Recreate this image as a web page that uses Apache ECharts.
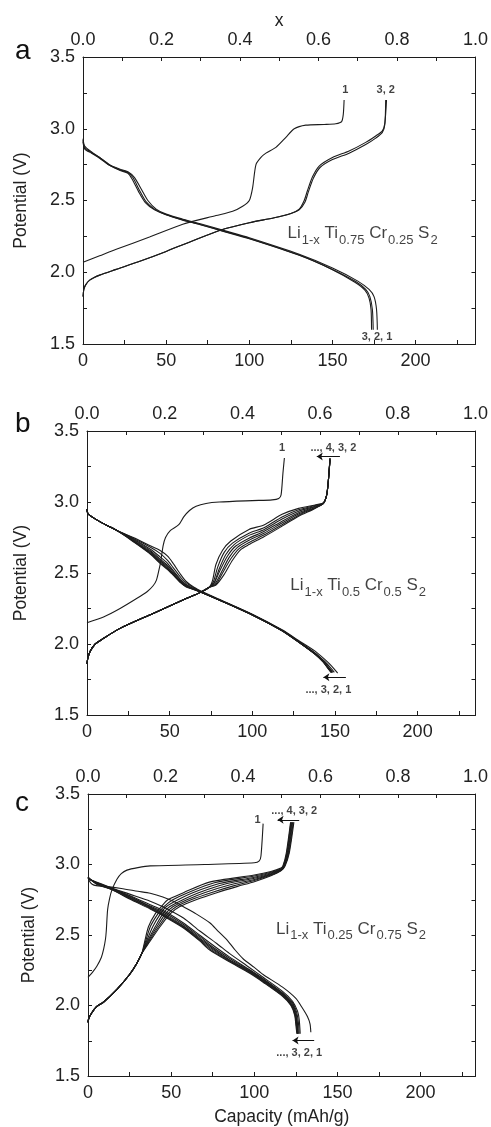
<!DOCTYPE html>
<html>
<head>
<meta charset="utf-8">
<title>Li1-x Ti/Cr S2 cycling curves</title>
<script src="https://cdn.jsdelivr.net/npm/echarts@6.0.0/dist/echarts.min.js"></script>
<style>
  html, body { margin: 0; padding: 0; background: #fff; }
  #chart { width: 491px; height: 1127px; }
</style>
</head>
<body>
<div id="chart"></div>
<script>
// [capacity mAh/g, potential V] pairs

// ---- panel a: Li1-x Ti0.75 Cr0.25 S2 ----
const aCharge1 = [[0,2.07],[10,2.115],[20,2.16],[40,2.245],[60,2.335],[80,2.395],[90,2.425],[96,2.46],[100,2.50],[102,2.59],[104,2.75],[107,2.80],[110,2.83],[116,2.87],[122,2.94],[127,3.0],[134,3.025],[145,3.03],[152,3.035],[155.5,3.05],[156.5,3.1],[157,3.2]];
const aCharge2 = [[0,1.83],[0.5,1.88],[1.5,1.91],[4,1.945],[10,1.98],[20,2.02],[35,2.08],[50,2.145],[65,2.215],[83,2.295],[100,2.345],[115,2.38],[125,2.41],[130,2.44],[133,2.50],[135,2.57],[138,2.665],[142,2.74],[150,2.80],[160,2.845],[170,2.905],[176,2.95],[180,2.985],[181.5,3.04],[182.5,3.2]];
const aCharge3 = [[0,1.83],[0.5,1.88],[1.5,1.91],[4,1.945],[10,1.98],[20,2.02],[35,2.08],[50,2.145],[65,2.215],[83,2.295],[100,2.345],[115,2.38],[125,2.41],[130,2.435],[133.5,2.49],[135.5,2.56],[138.5,2.655],[142.5,2.73],[150,2.785],[160,2.83],[170,2.89],[176,2.935],[180,2.975],[181.5,3.03],[182,3.2]];
const aDis1 = [[0,2.93],[1,2.88],[5,2.84],[10,2.80],[16,2.75],[22,2.72],[27,2.70],[31,2.66],[35,2.58],[39,2.50],[44,2.44],[50,2.405],[60,2.37],[70,2.34],[85,2.29],[100,2.24],[130,2.125],[150,2.03],[165,1.94],[172,1.88],[175,1.83],[176.5,1.74],[177,1.6]];
const aDis2 = [[0,2.92],[1,2.87],[5,2.835],[10,2.80],[16,2.745],[22,2.715],[27,2.695],[30,2.66],[34,2.57],[38,2.49],[43,2.44],[50,2.40],[60,2.365],[70,2.335],[85,2.285],[100,2.235],[130,2.12],[150,2.02],[164,1.935],[170,1.88],[172.5,1.83],[174,1.74],[174.5,1.6]];
const aDis3 = [[0,2.91],[1,2.86],[5,2.83],[10,2.795],[16,2.745],[22,2.71],[27,2.69],[29.5,2.65],[33.5,2.56],[37.5,2.485],[43,2.435],[50,2.40],[60,2.363],[70,2.333],[85,2.283],[100,2.233],[130,2.118],[150,2.018],[163.5,1.93],[169.5,1.875],[172,1.82],[173.2,1.74],[173.5,1.6]];

// ---- panel b: Li1-x Ti0.5 Cr0.5 S2 ----
const bCharge1 = [[0,2.15],[10,2.19],[20,2.25],[30,2.32],[36.5,2.37],[40,2.41],[42,2.45],[43.5,2.52],[44.6,2.58],[46,2.69],[47.5,2.75],[50.5,2.80],[55.5,2.84],[58.5,2.895],[62,2.94],[66,2.97],[72,2.99],[80,3.0],[100,3.01],[112,3.015],[116,3.025],[117.4,3.05],[118.5,3.2],[119.4,3.31]];
const bChargeStart = [[0,1.86],[0.5,1.9],[2,1.95],[5,2.0],[10,2.04],[20,2.11],[40,2.215],[60,2.32],[68,2.36],[74,2.40]];
const bChargeTail2 = [[76,2.45],[78,2.56],[82,2.66],[87,2.725],[98,2.807],[107,2.838],[118,2.913],[128,2.955],[138,2.979],[143,2.995],[145,3.05],[146,3.15],[147,3.31]];
const bChargeTail3 = [[76.5,2.44],[79,2.54],[83,2.645],[88,2.71],[98,2.78],[107,2.818],[118,2.895],[128,2.945],[138,2.975],[143,2.993],[145,3.05],[146,3.15],[147,3.31]];
const bChargeTail4 = [[77,2.435],[80,2.53],[84,2.63],[89,2.70],[98,2.765],[107,2.805],[118,2.88],[128,2.935],[138,2.97],[143,2.992],[145,3.05],[146,3.15],[147,3.30]];
const bChargeTail5 = [[77,2.43],[80.5,2.52],[85,2.62],[90,2.69],[98,2.745],[107,2.792],[118,2.865],[128,2.925],[138,2.966],[143,2.99],[145,3.05],[146,3.15],[147,3.30]];
const bChargeTail6 = [[77.5,2.425],[81.5,2.51],[86,2.61],[91,2.68],[98,2.73],[107,2.78],[118,2.852],[128,2.915],[138,2.962],[143,2.99],[145,3.05],[146,3.15],[147,3.30]];
const bChargeTail7 = [[78,2.42],[82,2.50],[87,2.60],[92,2.672],[98,2.715],[107,2.767],[118,2.84],[128,2.907],[138,2.958],[143,2.99],[145,3.05],[146,3.15],[147,3.30]];
const bChargeTail8 = [[78,2.415],[83,2.49],[88,2.59],[93,2.665],[98,2.70],[107,2.755],[118,2.83],[128,2.90],[138,2.955],[143,2.99],[145,3.05],[146,3.15],[147,3.29]];
const bDisStart = [[0,2.95],[0.5,2.92],[3,2.895],[8,2.86],[13,2.83],[18,2.80]];
const bDis1 = [[28,2.75],[38.6,2.69],[44,2.66],[48.6,2.62],[52,2.57],[56.6,2.49],[60,2.44],[64.7,2.40],[70,2.368],[80,2.315],[100,2.21],[118,2.10],[128,2.025],[138,1.95],[144,1.89],[148,1.845],[150.5,1.81],[151.6,1.795]];
const bDis2 = [[28,2.745],[38.6,2.68],[44,2.64],[48.6,2.59],[52,2.54],[56.6,2.47],[60,2.43],[64.7,2.395],[70,2.363],[80,2.312],[100,2.207],[118,2.097],[128,2.02],[138,1.937],[144,1.875],[147.5,1.83],[149.6,1.80]];
const bDis3 = [[28,2.74],[38.6,2.665],[44,2.615],[48.6,2.57],[52,2.52],[56.6,2.455],[60,2.42],[64.7,2.39],[70,2.362],[80,2.31],[100,2.205],[118,2.095],[128,2.015],[138,1.932],[143,1.877],[146.5,1.83],[148.6,1.80]];
const bDis4 = [[28,2.735],[38.6,2.655],[44,2.60],[48.6,2.555],[52,2.51],[56.6,2.448],[60,2.415],[64.7,2.388],[70,2.361],[80,2.31],[100,2.205],[118,2.095],[128,2.015],[138,1.931],[143,1.876],[146.3,1.83],[148.4,1.80]];
const bDis5 = [[28,2.73],[38.6,2.648],[44,2.59],[48.6,2.545],[52,2.50],[56.6,2.44],[60,2.41],[64.7,2.386],[70,2.36],[80,2.31],[100,2.205],[118,2.095],[128,2.015],[138,1.93],[143,1.875],[146.1,1.83],[148.2,1.80]];
const bDis6 = [[28,2.727],[38.6,2.64],[44,2.582],[48.6,2.537],[52,2.495],[56.6,2.436],[60,2.407],[64.7,2.385],[70,2.36],[80,2.31],[100,2.205],[118,2.094],[128,2.014],[138,1.929],[143,1.874],[146,1.83],[148,1.80]];
const bDis7 = [[28,2.723],[38.6,2.635],[44,2.575],[48.6,2.53],[52,2.49],[56.6,2.433],[60,2.404],[64.7,2.384],[70,2.36],[80,2.31],[100,2.205],[118,2.094],[128,2.014],[138,1.928],[143,1.873],[145.8,1.83],[147.8,1.80]];
const bDis8 = [[28,2.72],[38.6,2.63],[44,2.57],[48.6,2.526],[52,2.487],[56.6,2.432],[60,2.402],[64.7,2.383],[70,2.36],[80,2.31],[100,2.205],[118,2.093],[128,2.013],[138,1.927],[143,1.872],[145.6,1.83],[147.6,1.80]];

// ---- panel c: Li1-x Ti0.25 Cr0.75 S2 ----
const cCharge1 = [[0,2.2],[3,2.24],[5.4,2.28],[8,2.34],[9.4,2.40],[10.5,2.47],[11,2.53],[11.8,2.68],[13,2.76],[14.4,2.82],[17.4,2.895],[20,2.935],[23.4,2.96],[30,2.978],[37.4,2.99],[70,3.0],[100,3.012],[103,3.025],[104,3.06],[105.3,3.29]];
const cChargeStart = [[0,1.88],[0.5,1.91],[2.4,1.95],[5,1.99],[9.4,2.025],[17.4,2.115],[25,2.22],[29.4,2.30],[32.4,2.37]];
const cChargeTail2 = [[37,2.45],[43.4,2.56],[49.4,2.65],[55,2.70],[65,2.75],[77.4,2.80],[90,2.845],[100,2.878],[110,2.92],[116,2.955],[118.5,2.99],[121,3.08],[123.8,3.30]];
const cChargeTail3 = [[36.5,2.45],[42.5,2.56],[48,2.65],[53,2.70],[62,2.75],[74,2.80],[88,2.85],[100,2.886],[110,2.925],[116,2.958],[118.2,2.99],[120.7,3.08],[123.4,3.30]];
const cChargeTail4 = [[36,2.45],[41.5,2.56],[46.5,2.65],[51,2.70],[59.5,2.75],[70,2.80],[85,2.855],[100,2.894],[110,2.93],[116,2.96],[118,2.99],[120.4,3.08],[123,3.30]];
const cChargeTail5 = [[35.5,2.45],[40.5,2.56],[45,2.65],[49,2.70],[57,2.75],[66.5,2.80],[82,2.86],[100,2.902],[110,2.935],[116,2.963],[117.8,2.99],[120.1,3.08],[122.6,3.30]];
const cChargeTail6 = [[35,2.45],[39,2.56],[43.5,2.65],[47,2.70],[54,2.75],[63,2.80],[79,2.865],[100,2.91],[110,2.94],[116,2.966],[117.6,2.99],[119.8,3.08],[122.3,3.30]];
const cChargeTail7 = [[34.5,2.45],[37.5,2.56],[42,2.65],[45.5,2.70],[51,2.75],[60,2.80],[76,2.87],[100,2.918],[110,2.945],[116,2.97],[117.4,2.99],[119.5,3.08],[122,3.30]];
const cChargeTail8 = [[34,2.45],[36.4,2.56],[40.4,2.65],[44,2.70],[48,2.75],[57.4,2.80],[73,2.875],[100,2.925],[110,2.95],[116,2.975],[117.2,2.99],[119.2,3.08],[121.8,3.30]];
const cDis1 = [[0,2.91],[1,2.88],[2.5,2.86],[5,2.85],[10,2.845],[20,2.83],[30,2.81],[37.4,2.796],[45,2.77],[52,2.735],[57.4,2.70],[65,2.65],[73.4,2.585],[78,2.53],[83.4,2.467],[88,2.40],[93.4,2.33],[100,2.27],[105.3,2.22],[117,2.13],[125,2.05],[129,1.98],[132,1.92],[133.5,1.87],[134,1.81]];
const cDis2 = [[0,2.90],[5,2.875],[15,2.83],[25,2.79],[37.4,2.74],[45,2.70],[57.4,2.62],[67,2.53],[77.4,2.44],[85,2.37],[97,2.27],[105.3,2.20],[117,2.10],[123,2.03],[126,1.96],[127,1.90],[127.6,1.80]];
const cDis3 = [[0,2.90],[5,2.872],[15,2.828],[25,2.78],[37.4,2.715],[45,2.675],[57.4,2.585],[67,2.50],[76,2.42],[85,2.345],[97,2.255],[105.3,2.19],[117,2.09],[123,2.02],[125.5,1.95],[126.5,1.88],[127,1.80]];
const cDis4 = [[0,2.90],[5,2.87],[15,2.826],[25,2.775],[37.4,2.705],[45,2.665],[57.4,2.575],[67,2.49],[75,2.415],[85,2.335],[97,2.25],[105.3,2.185],[117,2.085],[123,2.01],[125.2,1.94],[126,1.87],[126.5,1.80]];
const cDis5 = [[0,2.905],[5,2.868],[15,2.824],[25,2.77],[37.4,2.70],[45,2.655],[57.4,2.565],[67,2.48],[74.5,2.41],[85,2.325],[97,2.245],[105.3,2.18],[117,2.08],[123,2.0],[125,1.93],[125.8,1.86],[126.2,1.80]];
const cDis6 = [[0,2.905],[5,2.866],[15,2.822],[25,2.765],[37.4,2.695],[45,2.648],[57.4,2.56],[67,2.472],[74,2.405],[85,2.32],[97,2.24],[105.3,2.175],[117,2.075],[122.5,2.0],[124.8,1.93],[125.5,1.86],[126,1.80]];
const cDis7 = [[0,2.91],[5,2.864],[15,2.82],[25,2.76],[37.4,2.69],[45,2.642],[57.4,2.555],[67,2.465],[73.5,2.40],[85,2.315],[97,2.235],[105.3,2.17],[117,2.07],[122.3,2.0],[124.5,1.93],[125.3,1.86],[125.8,1.80]];
const cDis8 = [[0,2.91],[5,2.862],[15,2.818],[25,2.755],[37.4,2.685],[45,2.637],[57.4,2.55],[67,2.46],[73,2.395],[85,2.31],[97,2.23],[105.3,2.165],[117,2.065],[122,2.0],[124.3,1.93],[125,1.86],[125.6,1.80]];

// axis ranges / ticks
const capMax = [236, 235, 233];
const capLabels = [0, 50, 100, 150, 200];
const capTicks = [0, 25, 50, 75, 100, 125, 150, 175, 200, 225];
const panelLetters = ['a', 'b', 'c'];
const compositions = [
  ['Ti', '0.75', 'Cr', '0.25'],
  ['Ti', '0.5', 'Cr', '0.5'],
  ['Ti', '0.25', 'Cr', '0.75']
];
const compositionAt = [[123, 2.26], [123, 2.40], [113, 2.53]];

// cycle-number labels, [cap, V]
const noteText = [
  ['1', '3, 2', '3, 2, 1'],
  ['1', '..., 4, 3, 2', '..., 3, 2, 1'],
  ['1', '..., 4, 3, 2', '..., 3, 2, 1']
];
const notePos = [
  [[157.7, 3.27], [182, 3.27], [176.8, 1.55]],
  [[118, 3.378], [149, 3.378], [146, 1.676]],
  [[102, 3.317], [124, 3.38], [127, 1.66]]
];
// arrows: [from, to]
const arrows = [
  [],
  [[[153, 3.32], [139, 3.32]], [[156.6, 1.766], [143, 1.766]]],
  [[[127, 3.317], [114, 3.317]], [[136, 1.751], [123, 1.751]]]
];

const curves = [
  [aCharge1, aCharge2, aCharge3, aDis1, aDis2, aDis3],
  [bCharge1,
   bChargeStart.concat(bChargeTail2), bChargeStart.concat(bChargeTail3), bChargeStart.concat(bChargeTail4),
   bChargeStart.concat(bChargeTail5), bChargeStart.concat(bChargeTail6), bChargeStart.concat(bChargeTail7),
   bChargeStart.concat(bChargeTail8),
   bDisStart.concat(bDis1), bDisStart.concat(bDis2), bDisStart.concat(bDis3), bDisStart.concat(bDis4),
   bDisStart.concat(bDis5), bDisStart.concat(bDis6), bDisStart.concat(bDis7), bDisStart.concat(bDis8)],
  [cCharge1,
   cChargeStart.concat(cChargeTail2), cChargeStart.concat(cChargeTail3), cChargeStart.concat(cChargeTail4),
   cChargeStart.concat(cChargeTail5), cChargeStart.concat(cChargeTail6), cChargeStart.concat(cChargeTail7),
   cChargeStart.concat(cChargeTail8),
   cDis1, cDis2, cDis3, cDis4, cDis5, cDis6, cDis7, cDis8]
];

const FONT = '"Liberation Sans", Arial, Helvetica, sans-serif';
const INK = '#1c1c1c';
const LABEL = '#222';

const grids = [
  { left: 83, top: 57, width: 394, height: 287 },
  { left: 87, top: 431, width: 390, height: 284 },
  { left: 88, top: 794, width: 389, height: 284 }
];
const yNameGap = [53, 57, 50];
const letterTop = [37, 410, 789];

const axisLine = { onZero: false, lineStyle: { color: INK, width: 1 } };
const tickStyle = { color: INK, width: 1 };
const labelStyle = { color: LABEL, fontSize: 18, fontFamily: FONT, margin: 8 };
const nameStyle = { color: LABEL, fontSize: 17.5, fontFamily: FONT };

const xAxis = [], yAxis = [], series = [], graphic = [];

grids.forEach((g, i) => {
  // bottom capacity axis
  xAxis.push({
    type: 'value', gridIndex: i, position: 'bottom', min: 0, max: capMax[i],
    axisLine: axisLine,
    axisTick: { inside: true, length: 4, customValues: capTicks, lineStyle: tickStyle },
    axisLabel: Object.assign({ customValues: capLabels }, labelStyle),
    splitLine: { show: false },
    name: i === 2 ? 'Capacity (mAh/g)' : '',
    nameLocation: 'middle', nameGap: 32,
    nameTextStyle: nameStyle
  });
  // top x axis
  xAxis.push({
    type: 'value', gridIndex: i, position: 'top', min: 0, max: 1, interval: 0.2,
    axisLine: axisLine,
    axisTick: { inside: true, length: 4, lineStyle: tickStyle },
    minorTick: { show: true, splitNumber: 2, length: 4, lineStyle: tickStyle },
    axisLabel: Object.assign({ formatter: v => v.toFixed(1) }, labelStyle),
    splitLine: { show: false },
    name: i === 0 ? 'x' : '',
    nameLocation: 'middle', nameGap: 25,
    nameTextStyle: nameStyle
  });
  // left potential axis
  yAxis.push({
    type: 'value', gridIndex: i, position: 'left', min: 1.5, max: 3.5, interval: 0.5,
    axisLine: axisLine,
    axisTick: { inside: true, length: 4, lineStyle: tickStyle },
    minorTick: { show: true, splitNumber: 2, length: 4, lineStyle: tickStyle },
    axisLabel: Object.assign({ formatter: v => v.toFixed(1) }, labelStyle),
    splitLine: { show: false },
    name: 'Potential (V)', nameLocation: 'middle', nameGap: yNameGap[i], nameRotate: 90,
    nameTextStyle: nameStyle
  });
  // right frame axis
  yAxis.push({
    type: 'value', gridIndex: i, position: 'right', min: 1.5, max: 3.5, interval: 0.5,
    axisLine: axisLine,
    axisTick: { inside: true, length: 4, lineStyle: tickStyle },
    minorTick: { show: true, splitNumber: 2, length: 4, lineStyle: tickStyle },
    axisLabel: { show: false },
    splitLine: { show: false }
  });

  curves[i].forEach(d => {
    series.push({
      type: 'line', xAxisIndex: 2 * i, yAxisIndex: 2 * i, data: d,
      showSymbol: false, smooth: 0.25, silent: true,
      lineStyle: { color: INK, width: 1.1 }
    });
  });

  const comp = compositions[i];
  const noteData = noteText[i].map((t, k) => ({ value: notePos[i][k], name: t }));
  noteData.push({
    value: compositionAt[i], name: 'comp',
    label: {
      position: 'right', distance: 0, offset: [0, 5], fontWeight: 'normal',
      formatter: '{m|Li}{s|1-x}{m| ' + comp[0] + '}{s|' + comp[1] + '}{m| ' + comp[2] + '}{s|' + comp[3] + '}{m| S}{s|2}',
      rich: {
        m: { fontSize: 17, fontFamily: FONT, fontWeight: 'normal', color: '#111', verticalAlign: 'top', lineHeight: 18 },
        s: { fontSize: 13, fontFamily: FONT, fontWeight: 'normal', color: '#111', lineHeight: 30, padding: [0, 0, 0, 1] }
      }
    }
  });
  series.push({
    type: 'scatter', xAxisIndex: 2 * i, yAxisIndex: 2 * i, symbolSize: 0, silent: true,
    data: noteData,
    label: {
      show: true, position: 'inside', formatter: '{b}',
      color: '#111', fontSize: 11, fontWeight: 'bold', fontFamily: FONT
    },
    markLine: {
      silent: true, symbol: ['none', 'arrow'], symbolSize: 6,
      lineStyle: { color: '#111', width: 1, type: 'solid' },
      label: { show: false },
      data: arrows[i].map(a => [{ coord: a[0] }, { coord: a[1] }])
    }
  });

  graphic.push({
    type: 'text', left: 15, top: letterTop[i],
    style: { text: panelLetters[i], fontSize: 28, fontFamily: FONT, fill: '#111' }
  });
});

const chart = echarts.init(document.getElementById('chart'));
chart.setOption({
  animation: false,
  backgroundColor: '#fff',
  grid: grids,
  xAxis: xAxis,
  yAxis: yAxis,
  series: series,
  graphic: graphic
});
</script>
</body>
</html>
